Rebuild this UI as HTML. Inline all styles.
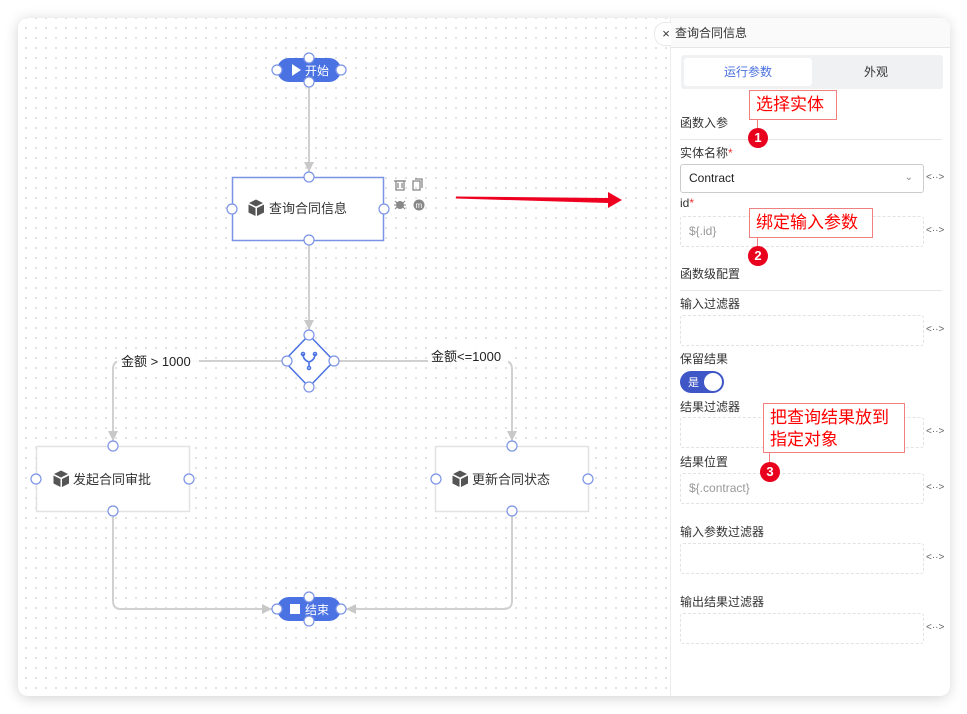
<!DOCTYPE html>
<html><head><meta charset="utf-8"><style>
html,body{margin:0;padding:0;width:967px;height:714px;overflow:hidden;background:#fff;font-family:"Liberation Sans","Noto Sans CJK SC",sans-serif;}
.win{position:absolute;left:18px;top:18px;width:931px;height:678px;border-radius:10px;box-shadow:0 2px 14px rgba(0,0,0,.18);overflow:hidden;background:#fff;
background-image:radial-gradient(circle,#bdbdbd 0.6px,transparent 0.9px);background-size:10px 10px;background-position:3px 5px;}
.panel{position:absolute;left:670px;top:18px;width:279px;height:678px;background:#fff;border-left:1px solid #ececec;border-radius:0 10px 10px 0;font-size:12px;color:#333;}
.abs{position:absolute;}
.lbl{position:absolute;left:9px;font-size:12px;color:#333;}
.inp{position:absolute;left:9px;width:244px;height:31px;border:1px dashed #e2e2e2;border-radius:3px;box-sizing:border-box;color:#999;font-size:12px;line-height:29px;padding-left:8px;}
.code{position:absolute;left:255px;font-size:10px;color:#666;}
.note{position:absolute;border:1px solid #f08080;background:#fff;color:#f00;font-size:17px;line-height:22px;padding:3px 6px;box-sizing:border-box;}
.num{position:absolute;width:20px;height:20px;border-radius:50%;background:#e8001c;color:#fff;font-weight:bold;font-size:13px;text-align:center;line-height:20px;}
.hr{position:absolute;left:9px;width:262px;height:1px;background:#e6e6e6;}
</style></head><body>
<div class="win"></div>
<svg class="abs" style="left:0;top:0" width="967" height="714">
<defs>
<marker id="ah" markerWidth="12" markerHeight="12" refX="10" refY="5" orient="auto" markerUnits="userSpaceOnUse"><path d="M0,0 L10,5 L0,10 z" fill="#c8c8c8"/></marker>
</defs>
<g stroke="#d0d0d0" stroke-width="2" fill="none">
<path d="M309,82 V172" marker-end="url(#ah)"/>
<path d="M309,240 V330" marker-end="url(#ah)"/>
<path d="M287,361 H121 Q113,361 113,369 V441" marker-end="url(#ah)"/>
<path d="M334,361 H504 Q512,361 512,369 V441" marker-end="url(#ah)"/>
<path d="M113,511 V601 Q113,609 121,609 H272" marker-end="url(#ah)"/>
<path d="M512,511 V601 Q512,609 504,609 H346" marker-end="url(#ah)"/>
</g>
<rect x="117" y="352" width="82" height="18" fill="#fff" opacity="0.9"/>
<text x="121" y="366" font-size="13" fill="#222" font-family="Liberation Sans,Noto Sans CJK SC,sans-serif">金额 &gt; 1000</text>
<rect x="428" y="347" width="80" height="18" fill="#fff" opacity="0.9"/>
<text x="431" y="361" font-size="13" fill="#222" font-family="Liberation Sans,Noto Sans CJK SC,sans-serif">金额&lt;=1000</text>
<rect x="277" y="58" width="64" height="24" rx="12" fill="#4a72e2"/>
<path d="M292,64 L301,70 L292,76z" fill="#fff"/>
<text x="305" y="75" font-size="12" fill="#fff" font-family="Liberation Sans,Noto Sans CJK SC,sans-serif">开始</text>
<rect x="277" y="597" width="64" height="24" rx="12" fill="#4a72e2"/>
<rect x="290" y="604" width="10" height="10" fill="#fff"/>
<text x="305" y="614" font-size="12" fill="#fff" font-family="Liberation Sans,Noto Sans CJK SC,sans-serif">结束</text>
<rect x="232.5" y="177.5" width="151" height="63" fill="#fff" stroke="#7b93e6" stroke-width="1.5"/>
<rect x="36.5" y="446.5" width="153" height="65" fill="#fff" stroke="#e2e2e2" stroke-width="1.5"/>
<rect x="435.5" y="446.5" width="153" height="65" fill="#fff" stroke="#e2e2e2" stroke-width="1.5"/>
<g font-size="13" fill="#333" font-family="Liberation Sans,Noto Sans CJK SC,sans-serif">
<text x="269" y="213">查询合同信息</text>
<text x="73" y="484">发起合同审批</text>
<text x="472" y="484">更新合同状态</text>
</g>
<g fill="#555">
<path d="M249,203 l7,-3.5 7,3.5 -7,3.5z M248.5,204.5 l7,3.5 v8 l-7,-3.5z M257,208 l7,-3.5 v8 l-7,3.5z"/>
<path d="M54,474 l7,-3.5 7,3.5 -7,3.5z M53.5,475.5 l7,3.5 v8 l-7,-3.5z M62,479 l7,-3.5 v8 l-7,3.5z"/>
<path d="M453,474 l7,-3.5 7,3.5 -7,3.5z M452.5,475.5 l7,3.5 v8 l-7,-3.5z M461,479 l7,-3.5 v8 l-7,3.5z"/>
</g>
<g stroke="#888" fill="none" stroke-width="1.3">
<rect x="396" y="181" width="8" height="9"/><path d="M394,181 h12 M398,183 v5 M402,183 v5"/>
<rect x="413" y="181" width="7" height="9"/><path d="M415,179 h7 v9"/>
</g>
<circle cx="400" cy="205" r="4" fill="#888"/><path d="M395,201 l2,2 M405,201 l-2,2 M395,209 l2,-2 M405,209 l-2,-2 M394,205 h12" stroke="#888"/>
<circle cx="419" cy="205" r="5.5" fill="#888"/><text x="415.5" y="208" font-size="8" fill="#fff">m</text>
<path d="M309,335 L334,361 L309,387 L284,361z" fill="#fff" stroke="#4a72e2" stroke-width="1.5"/>
<g stroke="#4a72e2" stroke-width="1.6" fill="none"><path d="M303,354 q0,6 6,8 q6,-2 6,-8 M309,362 v5"/><circle cx="303" cy="354" r="1.5"/><circle cx="315" cy="354" r="1.5"/><circle cx="309" cy="368" r="1.5"/></g>
<g fill="#fff" stroke="#7b93e6" stroke-width="1.2">
<circle cx="309" cy="58" r="5"/><circle cx="277" cy="70" r="5"/><circle cx="341" cy="70" r="5"/><circle cx="309" cy="82" r="5"/>
<circle cx="309" cy="177" r="5"/><circle cx="232" cy="209" r="5"/><circle cx="384" cy="209" r="5"/><circle cx="309" cy="240" r="5"/>
<circle cx="309" cy="335" r="5"/><circle cx="287" cy="361" r="5"/><circle cx="334" cy="361" r="5"/><circle cx="309" cy="387" r="5"/>
<circle cx="113" cy="446" r="5"/><circle cx="36" cy="479" r="5"/><circle cx="189" cy="479" r="5"/><circle cx="113" cy="511" r="5"/>
<circle cx="512" cy="446" r="5"/><circle cx="436" cy="479" r="5"/><circle cx="588" cy="479" r="5"/><circle cx="512" cy="511" r="5"/>
<circle cx="309" cy="597" r="5"/><circle cx="277" cy="609" r="5"/><circle cx="341" cy="609" r="5"/><circle cx="309" cy="621" r="5"/>
</g>
<path d="M456,196.5 L608,198 L608,192 L622,200 L608,208 L608,203 L456,198.5z" fill="#ee0020"/>
</svg>
<div class="panel">
 <div class="abs" style="left:-17px;top:4px;width:22px;height:22px;border-radius:11px 0 0 11px;background:#fff;border:1px solid #e8e8e8;border-right:none;font-size:13px;line-height:21px;text-align:center;">×</div>
 <div class="abs" style="left:0;top:0;width:279px;height:29px;border-bottom:1px solid #e6e6e6;background:#fafafa;border-radius:0 10px 0 0;"></div>
 <div class="abs" style="left:4px;top:6px;font-size:12px;color:#333">查询合同信息</div>
 <div class="abs" style="left:10px;top:37px;width:262px;height:34px;background:#f0f1f3;border-radius:3px;"></div>
 <div class="abs" style="left:13px;top:40px;width:128px;height:28px;background:#fff;border-radius:3px;color:#4a6fe0;text-align:center;line-height:28px;font-size:12px;">运行参数</div>
 <div class="abs" style="left:141px;top:40px;width:128px;height:28px;text-align:center;line-height:28px;font-size:12px;">外观</div>
 <div class="lbl" style="top:96px">函数入参</div>
 <div class="hr" style="top:121px"></div>
 <div class="lbl" style="top:126px">实体名称<span style="color:#e33">*</span></div>
 <div class="inp" style="top:146px;border:1px solid #ccc;color:#222;height:29px;line-height:27px">Contract<span style="position:absolute;right:10px;top:-1px;color:#888;font-size:10px">&#8964;</span></div>
 <div class="code" style="top:154px">&lt;··&gt;</div>
 <div class="lbl" style="top:178px">id<span style="color:#e33">*</span></div>
 <div class="inp" style="top:198px">${.id}</div>
 <div class="code" style="top:207px">&lt;··&gt;</div>
 <div class="lbl" style="top:247px">函数级配置</div>
 <div class="hr" style="top:272px"></div>
 <div class="lbl" style="top:277px">输入过滤器</div>
 <div class="inp" style="top:297px"></div>
 <div class="code" style="top:306px">&lt;··&gt;</div>
 <div class="lbl" style="top:332px">保留结果</div>
 <div class="abs" style="left:9px;top:353px;width:44px;height:22px;border-radius:11px;background:#3f56c6;"><span style="position:absolute;left:8px;top:3px;color:#fff;font-size:11px">是</span><span style="position:absolute;right:2px;top:2px;width:18px;height:18px;border-radius:50%;background:#fff"></span></div>
 <div class="lbl" style="top:380px">结果过滤器</div>
 <div class="inp" style="top:399px"></div>
 <div class="code" style="top:408px">&lt;··&gt;</div>
 <div class="lbl" style="top:435px">结果位置</div>
 <div class="inp" style="top:455px">${.contract}</div>
 <div class="code" style="top:464px">&lt;··&gt;</div>
 <div class="lbl" style="top:505px">输入参数过滤器</div>
 <div class="inp" style="top:525px"></div>
 <div class="code" style="top:534px">&lt;··&gt;</div>
 <div class="lbl" style="top:575px">输出结果过滤器</div>
 <div class="inp" style="top:595px"></div>
 <div class="code" style="top:604px">&lt;··&gt;</div>
 <div class="abs" style="left:86px;top:101px;width:1px;height:18px;background:#f08080"></div>
 <div class="note" style="left:78px;top:72px;width:88px;height:30px;">选择实体</div>
 <div class="num" style="left:77px;top:110px">1</div>
 <div class="abs" style="left:86px;top:219px;width:1px;height:18px;background:#f08080"></div>
 <div class="note" style="left:78px;top:190px;width:124px;height:30px;">绑定输入参数</div>
 <div class="num" style="left:77px;top:228px">2</div>
 <div class="abs" style="left:98px;top:434px;width:1px;height:18px;background:#f08080"></div>
 <div class="note" style="left:92px;top:385px;width:142px;height:50px;">把查询结果放到<br>指定对象</div>
 <div class="num" style="left:89px;top:444px">3</div>
</div>
</body></html>
